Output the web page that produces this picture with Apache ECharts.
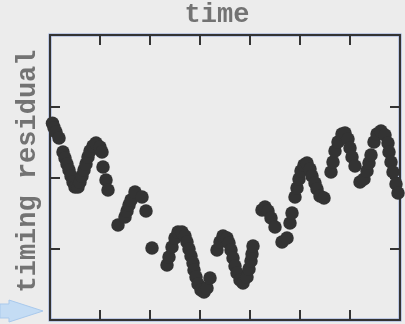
<!DOCTYPE html>
<html>
<head>
<meta charset="utf-8">
<script src="https://cdn.jsdelivr.net/npm/echarts@6/dist/echarts.min.js"></script>
<style>
html,body{margin:0;padding:0;background:#ececec;}
#c{width:405px;height:324px;}
</style>
</head>
<body>
<div id="c"></div>
<script>
// time values (axis units)
const timeValues = [0.05,0.08,0.12,0.18,
  0.26,0.30,0.34,0.38,0.42,0.46,0.50,0.56,0.60,0.64,0.68,0.72,0.76,0.80,0.86,0.92,1.00,1.04,
  1.06,1.12,1.16,
  1.36,1.50,1.54,1.58,1.62,1.70,1.84,1.92,
  2.04,
  2.34,2.38,2.44,2.50,2.56,2.64,2.70,2.74,2.78,2.82,2.86,2.88,2.92,2.96,3.02,3.08,3.14,3.20,
  3.34,3.40,3.46,3.54,3.58,3.62,3.66,3.70,3.74,3.80,3.86,3.94,3.98,4.02,4.04,4.06,
  4.24,4.30,4.36,4.42,4.50,
  4.64,4.74,4.80,4.84,4.90,4.94,4.98,5.02,5.08,5.14,5.20,5.24,5.30,5.34,5.40,5.48,
  5.62,5.66,5.70,5.76,5.84,5.90,5.96,6.00,6.04,6.10,
  6.20,6.28,6.34,6.38,6.42,6.48,6.54,6.62,6.70,6.76,6.78,6.82,6.86,6.92,6.96];
// timing residual values
const residualValues = [0.76,0.70,0.639,0.554,
  0.358,0.274,0.189,0.105,0.021,-0.063,-0.133,-0.133,-0.063,0.021,0.105,0.189,0.288,0.372,0.442,0.484,0.428,0.358,
  0.147,-0.035,-0.175,
  -0.667,-0.554,-0.470,-0.386,-0.316,-0.204,-0.274,-0.470,
  -0.989,
  -1.228,-1.116,-0.975,-0.849,-0.765,-0.765,-0.821,-0.905,-1.004,-1.102,-1.200,-1.298,-1.396,-1.495,-1.579,-1.607,-1.551,-1.411,
  -1.018,-0.905,-0.821,-0.849,-0.919,-1.018,-1.130,-1.242,-1.340,-1.439,-1.481,-1.396,-1.284,-1.172,-1.074,-0.961,
  -0.456,-0.414,-0.470,-0.568,-0.695,
  -0.905,-0.849,-0.639,-0.498,-0.274,-0.147,-0.021,0.091,0.175,0.204,0.119,0.021,-0.077,-0.161,-0.260,-0.288,
  0.077,0.218,0.372,0.498,0.611,0.625,0.540,0.414,0.288,0.161,
  -0.063,-0.021,0.091,0.204,0.316,0.498,0.611,0.653,0.596,0.484,0.358,0.218,0.077,-0.091,-0.218];
const xTitle = 'time';
const yTitle = 'timing residual';

const points = timeValues.map((t, i) => [t, residualValues[i]]);
const chart = echarts.init(document.getElementById('c'), null, {renderer: 'canvas'});
const tickStyle = {show: true, inside: true, length: 10, lineStyle: {color: '#333', width: 2}};
const lineStyle = {show: true, onZero: false, lineStyle: {color: '#333', width: 2}};
chart.setOption({
  backgroundColor: '#ececec',
  animation: false,
  grid: {left: 50, top: 35, width: 350, height: 285, show: true, borderColor: '#8ea4da', borderWidth: 3, backgroundColor: 'transparent'},
  xAxis: [
    {type: 'value', min: 0, max: 7, interval: 1, position: 'bottom', axisLine: lineStyle, axisTick: tickStyle, axisLabel: {show: false}, splitLine: {show: false}},
    {type: 'value', min: 0, max: 7, interval: 1, position: 'top', axisLine: lineStyle, axisTick: tickStyle, axisLabel: {show: false}, splitLine: {show: false}}
  ],
  yAxis: [
    {type: 'value', min: -2, max: 2, interval: 1, position: 'left', axisLine: lineStyle, axisTick: tickStyle, axisLabel: {show: false}, splitLine: {show: false}},
    {type: 'value', min: -2, max: 2, interval: 1, position: 'right', axisLine: lineStyle, axisTick: tickStyle, axisLabel: {show: false}, splitLine: {show: false}}
  ],
  graphic: [
    {type: 'text', x: 217, y: 15, style: {text: xTitle, fill: '#737373', font: 'bold 27px "Liberation Mono", monospace', textAlign: 'center', textVerticalAlign: 'middle'}},
    {type: 'text', x: 28, y: 171, rotation: Math.PI / 2, style: {text: yTitle, fill: '#737373', font: 'bold 27px "Liberation Mono", monospace', textAlign: 'center', textVerticalAlign: 'middle'}},
    {type: 'polygon', shape: {points: [[0,304],[9,304],[9,300],[43,311],[9,322],[9,318],[0,318]]}, style: {fill: '#c4dcf4', stroke: '#a9c9ec', lineWidth: 1}}
  ],
  series: [{
    type: 'scatter',
    data: points,
    symbol: 'circle',
    symbolSize: 13.5,
    clip: true,
    itemStyle: {color: '#333333', opacity: 1},
    z: 1
  }]
});
</script>
</body>
</html>
